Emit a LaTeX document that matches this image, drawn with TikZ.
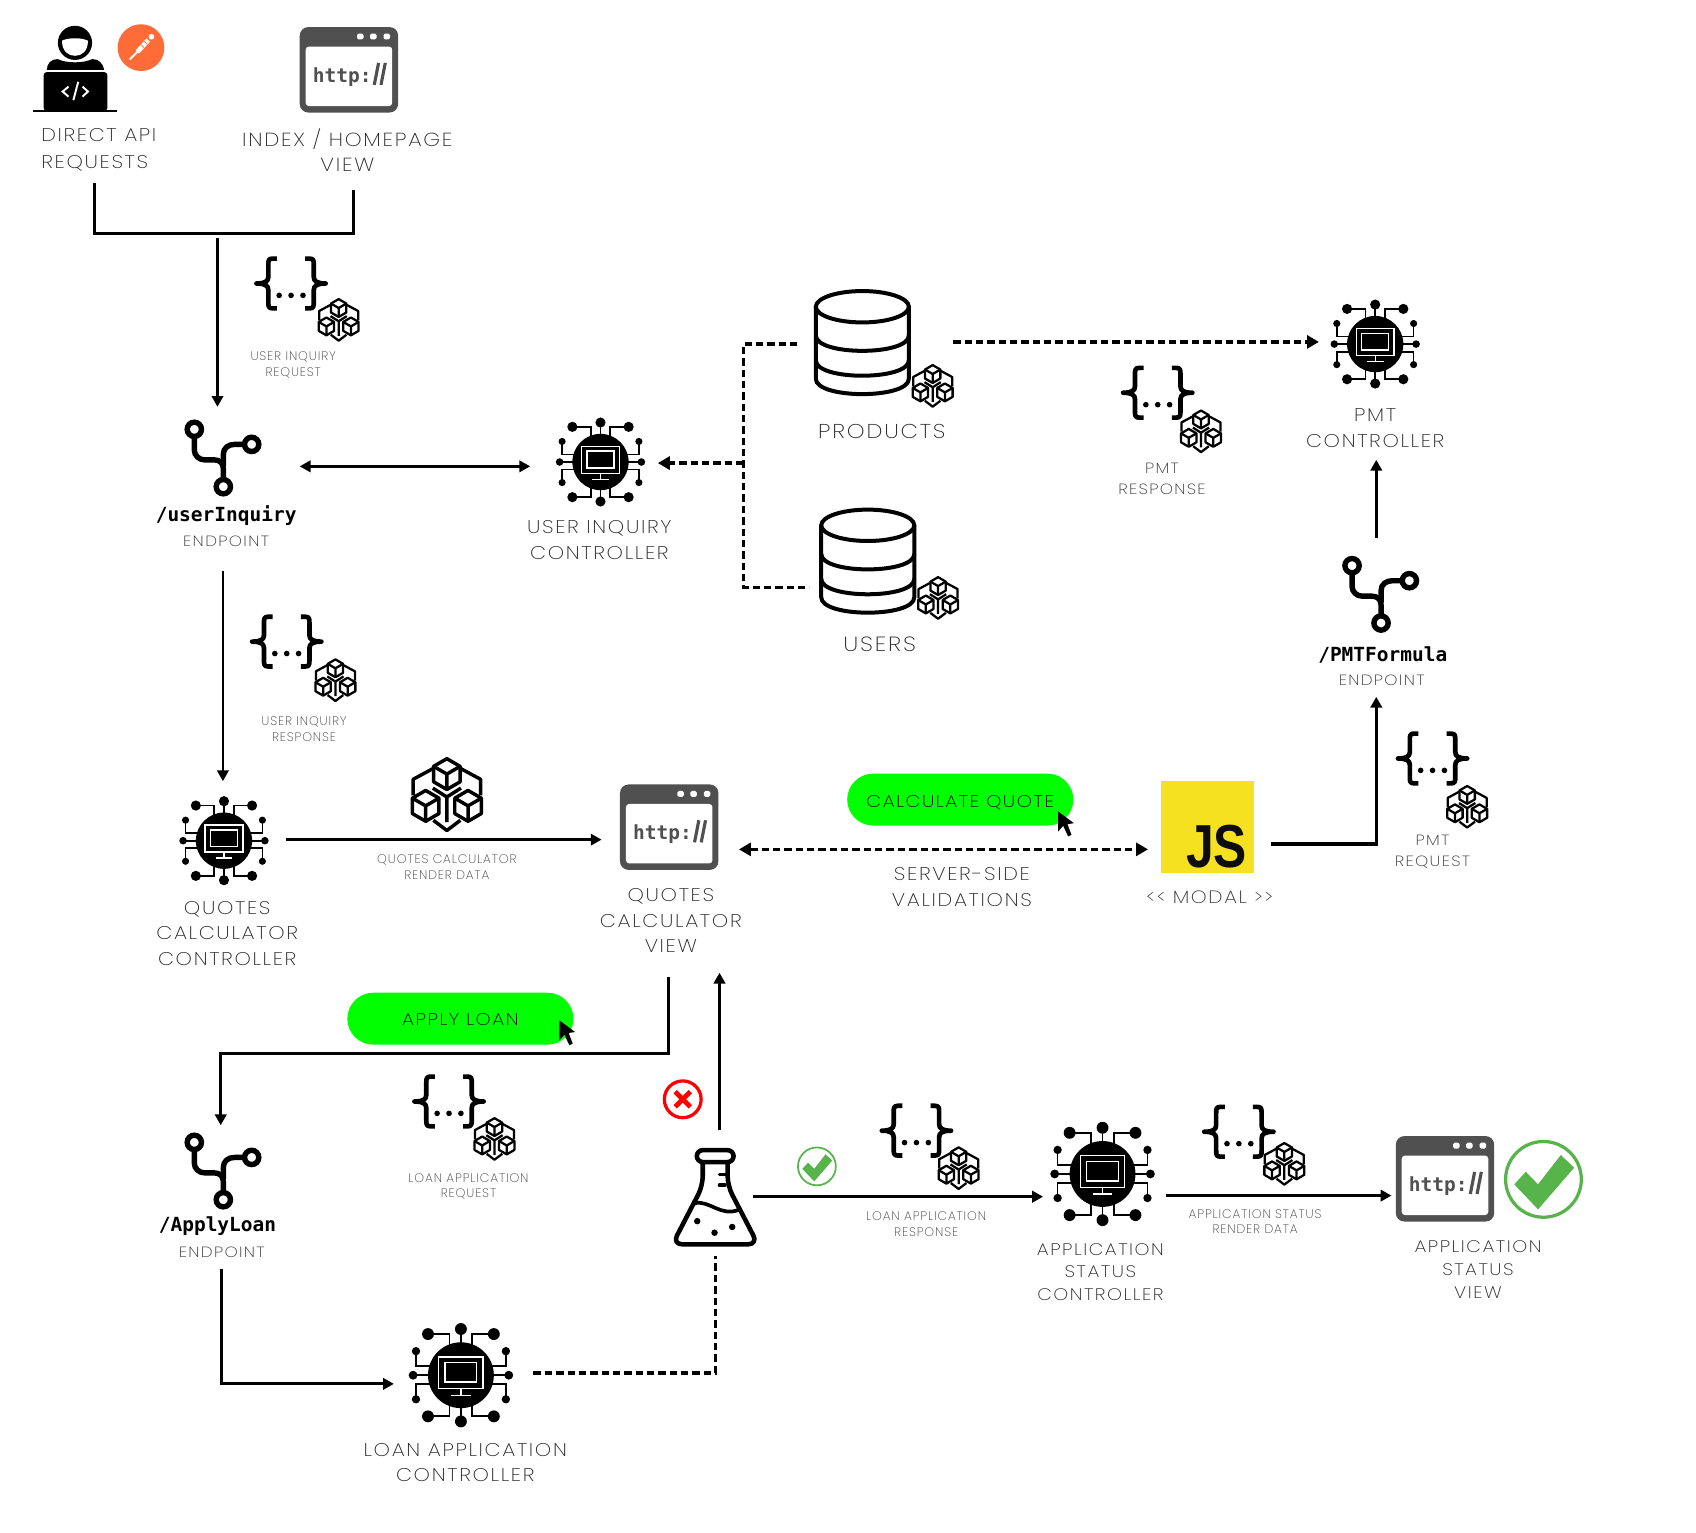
\documentclass[tikz,border=0pt]{standalone}
\usepackage{fontspec}
\usepackage{graphicx}
\usetikzlibrary{arrows.meta}
\newfontfamily\thinfont{Poppins}[UprightFont=* ExtraLight,FakeStretch=1.13,LetterSpace=9]
\newfontfamily\thinsmall{Poppins}[UprightFont=* ExtraLight,LetterSpace=7]
\newfontfamily\codefont{DejaVu Sans Mono}
\newfontfamily\jsfont{Liberation Sans}
\definecolor{winGrey}{HTML}{505050}
\definecolor{okGreen}{HTML}{57B44B}
\definecolor{jsYellow}{HTML}{F5E11F}
\definecolor{pmOrange}{HTML}{FF6C37}
\tikzset{
  lbl/.style={font=\thinfont\fontsize{17}{23.5}\selectfont,align=center,text=black!85,inner sep=0pt},
  lblbig/.style={font=\thinfont\fontsize{19}{23.5}\selectfont,align=center,text=black!85,inner sep=0pt},
  lblmid/.style={font=\thinfont\fontsize{13.7}{19}\selectfont,align=center,text=black!80,inner sep=0pt},
  lblwide/.style={font=\thinfont\fontsize{15.5}{21}\selectfont,align=center,text=black!85,inner sep=0pt},
  lblsmall/.style={font=\thinsmall\fontsize{11.5}{14.5}\selectfont,align=center,text=black!75,inner sep=0pt},
  lblcode/.style={font=\codefont\bfseries\fontsize{18}{22}\selectfont,inner sep=0pt},
  pill/.style={fill=green,rounded corners=24pt,minimum width=209pt,minimum height=48pt,inner sep=0pt,
    font=\thinfont\fontsize{15.7}{18}\selectfont},
  solidarrow/.style={-{Triangle[length=10pt,width=10.5pt]},line width=2.4pt},
  solidboth/.style={{Triangle[length=10pt,width=10.5pt]}-{Triangle[length=10pt,width=10.5pt]},line width=2.4pt},
  dashline/.style={line width=3.1pt,dash pattern=on 6.8pt off 3.7pt},
  dashtip/.style={-{Triangle[length=11pt,width=12pt]}},
  pics/cubeicon/.style={code={
    \begin{scope}[line join=round]
      \draw (-7.3,-13.8) -- (-17.5,-8.3) -- (-17.5,0) (7.3,-13.8) -- (17.5,-8.3) -- (17.5,0);
      \draw (-7,13) -- (0,18.3) -- (7,13);
      \draw (-7.3,-3.7) -- (0,.9) -- (7.3,-3.7) (0,.9) -- (0,14);
      \foreach \cx/\cy in {0/-11,-11/5.5,11/5.5}{
        \begin{scope}[shift={(\cx,\cy)}]
          \draw[fill=white] (0,-8) -- (6.9,-4) -- (6.9,4) -- (0,8) -- (-6.9,4) -- (-6.9,-4) -- cycle;
          \draw (-6.9,-4) -- (0,0) -- (6.9,-4) (0,0) -- (0,8);
        \end{scope}}
    \end{scope}
  }},
  pics/jsonicon/.style={code={
    \begin{scope}[line width=4.3pt,line join=round]
      \draw (-13,-23) -- (-17,-23) .. controls (-21,-23) and (-21,-21) .. (-21,-17) -- (-21,-6)
        .. controls (-21,-2) and (-24,0) .. (-32,0) .. controls (-24,0) and (-21,2) .. (-21,6) -- (-21,17)
        .. controls (-21,21) and (-21,23) .. (-17,23) -- (-13,23);
      \draw (13,-23) -- (17,-23) .. controls (21,-23) and (21,-21) .. (21,-17) -- (21,-6)
        .. controls (21,-2) and (24,0) .. (32,0) .. controls (24,0) and (21,2) .. (21,6) -- (21,17)
        .. controls (21,21) and (21,23) .. (17,23) -- (13,23);
    \end{scope}
    \foreach \dx in {-11,0,11} \fill (\dx,11) circle (2.6);
  }},
  pics/chipicon/.style={code={
    \foreach \sx in {-1,1} \foreach \sy in {-1,1}{
      \begin{scope}[xscale=\sx,yscale=\sy]
        \draw[line width=1.6pt] (26,32.5) -- (9,32.5) -- (9,24) (35.5,19) -- (35.5,7) -- (24,7);
        \fill (26,32.5) circle (4.7) (35.5,19) circle (3.3);
      \end{scope}}
    \draw[line width=1.6pt] (0,-36) -- (0,36) (-37,0) -- (37,0);
    \fill (0,-36.5) circle (4.7) (0,36.5) circle (4.7) (-37.8,0) circle (3.5) (37.8,0) circle (3.5);
    \fill (0,0) circle (26);
    \draw[white,line width=1.3pt] (-17.5,-14.5) rectangle (17.5,10.5);
    \draw[white,line width=1.3pt] (-12.5,-10) rectangle (12.5,5.5);
    \draw[white,line width=1.3pt] (0,10.5) -- (0,15.5);
    \draw[white,line width=1.5pt] (-7.7,16) -- (7.7,16);
  }},
  pics/windowicon/.style={code={
    \fill[winGrey,rounded corners=8pt] (-45.5,-39.5) rectangle (45.5,39.5);
    \fill[white,rounded corners=3pt] (-40,-21.5) rectangle (40,33.5);
    \foreach \dx in {10.5,22.5,35}
      \fill[white,rounded corners=1.5pt] (\dx-3,-33.5) rectangle (\dx+3,-28);
    \node[font=\codefont\bfseries\fontsize{18}{18}\selectfont,text=winGrey,inner sep=0pt,anchor=base west] (-http) at (-34.5,11.5) {http:};
    \draw[winGrey,line width=2.9pt] (23.4,14) -- (27.4,-6.4) (29.6,14) -- (33.6,-6.4);
  }},
  pics/branchicon/.style={code={
    \begin{scope}[line width=5pt]
      \draw (-25.4,-18) -- (-25.4,-7) .. controls (-25.4,-2) and (-21,2) .. (-16,2) -- (-7,2)
        .. controls (-2,2) and (1.4,5) .. (1.4,10) -- (1.4,19);
      \draw (1.4,8) -- (1.4,-3) .. controls (1.4,-9) and (6,-12.3) .. (12,-12.3) -- (21,-12.3);
      \draw (-25.4,-26.2) circle (6.6) (27.6,-12.3) circle (6.6) (1.4,26.8) circle (6.6);
    \end{scope}
  }},
  pics/dbicon/.style={code={
    \begin{scope}[line width=3.7pt]
      \draw[fill=white] (-43,-33.5) -- (-43,33) .. controls (-43,52) and (43,52) .. (43,33) -- (43,-33.5);
      \draw (0,-33.5) ellipse (43 and 14.5);
      \draw (-43,-7) .. controls (-43,12) and (43,12) .. (43,-7);
      \draw (-43,16) .. controls (-43,35) and (43,35) .. (43,16);
    \end{scope}
  }},
  pics/flaskicon/.style={code={
    \begin{scope}[line width=4.2pt,line join=round]
      \draw[rounded corners=5.5pt] (-17,-44) rectangle (17,-33);
      \draw[rounded corners=9pt] (-11.5,-33) -- (-11.5,-11) -- (-39.5,43) -- (39.5,43) -- (11.5,-11) -- (11.5,-33);
      \draw[line width=3.4pt] (-19,5) .. controls (-5,2) and (5,18) .. (22,11);
      \draw[line width=3.4pt,line cap=round] (4,-21.5) -- (11,-21.5) (4,-11.5) -- (9,-11.5);
    \end{scope}
    \fill (-16.6,21.6) circle (3) (-0.6,32.3) circle (3) (15.7,27) circle (3);
  }},
  pics/okicon/.style={code={
    \draw[okGreen] (0,0) circle (35);
    \fill[okGreen] (-27,4.6) -- (-16.3,-7) -- (-5,4.6) -- (16,-22.5) -- (28.4,-10.8) -- (-5,27.7) -- cycle;
  }},
  pics/cursoricon/.style={code={
    \fill (0,0) -- (0,18.5) -- (4.6,13.2) -- (9.2,23) -- (12.3,21.6) -- (8.6,11.7) -- (14.5,10.8) -- cycle;
  }}
}
\begin{document}
\begin{tikzpicture}[x=1pt,y=-1pt,line width=2.4pt]
\useasboundingbox (0,0) rectangle (1567.5,1416.8);

% developer and postman
\begin{scope}[shift={(69.3,61.6)}]
  \fill (0,-22) circle (15.8);
  \fill[white] (-12,-24) .. controls (-6,-27) and (6,-27) .. (12,-24) .. controls (12,-14) and (6,-10) .. (0,-10) .. controls (-6,-10) and (-12,-14) .. (-12,-24);
  \fill (-26,3) .. controls (-26,-3) and (-22,-7) .. (-16,-7) .. controls (-8,-3) and (8,-3) .. (16,-7) .. controls (22,-7) and (26,-3) .. (27,3) -- cycle;
  \fill[rounded corners=3pt] (-29,5) rectangle (30,41);
  \draw[line width=2pt] (-38.5,41) -- (38.5,41);
  \draw[white,line width=1.8pt] (-6,18.5) -- (-11.4,23) -- (-6,27.7) (3,14) -- (-1.5,31) (7,18.5) -- (12,23) -- (7,27.7);
\end{scope}
\fill[pmOrange] (130.3,44) circle (21.6);
\draw[white,line width=4.4pt] (127,48) -- (137,37);
\draw[white,line width=1.8pt] (120,55) -- (128,47);
\fill[white] (140,34) circle (2.6);
\draw[pmOrange,line width=.7pt] (129,40) -- (133,44) (132,37) -- (136,41);

% labels on top
\node[lbl,align=left,anchor=west] (lblDirect) at (37,138.5) {DIRECT API\\[1.5pt]REQUESTS};
\node[lbl,font=\thinfont\fontsize{17.5}{23.5}\selectfont] (lblIndex) at (321,138.5) {INDEX / HOMEPAGE\\VIEW};

% browser windows
\pic at (322.5,64.5) {windowicon};
\pic at (618.5,764.5) {windowicon};
\pic at (1335.5,1089.5) {windowicon};

% json and cube badges
\foreach \bx/\by/\cx/\cy in {269/262/313/296, 265/593/310/629, 1070/363/1110/399, 1324/701/1356/746,
  415/1018/457/1053, 847/1045/886/1080, 1145/1046/1187/1076}{
  \pic at (\bx,\by) {jsonicon};
  \pic[scale=1.03,line width=2.1pt] at (\cx,\cy) {cubeicon};
}
\pic[scale=1.78,line width=3.2pt] at (413,735) {cubeicon};

% controllers
\pic at (555,427) {chipicon};
\pic at (1271,318) {chipicon};
\pic at (207,777) {chipicon};
\pic[scale=1.17] at (426,1271) {chipicon};
\pic[scale=1.17] at (1019,1085) {chipicon};

% endpoints
\pic at (205,423) {branchicon};
\pic at (1275,549) {branchicon};
\pic at (205,1082) {branchicon};

% databases
\pic at (797,317) {dbicon};
\pic[scale=1.03,line width=2.1pt] at (862,357) {cubeicon};
\pic at (802,519) {dbicon};
\pic[scale=1.03,line width=2.1pt] at (867,553) {cubeicon};

% js, flask, status marks
\fill[jsYellow] (1073,722) rectangle (1159,807);
\node[font=\jsfont\bfseries\fontsize{46}{48}\selectfont,inner sep=0pt,text=black!95] (jsMark) at (1124.5,782) {\scalebox{1}[1.22]{JS}};
\pic at (661,1107) {flaskicon};
\pic[scale=.5,line width=1.6pt] at (755,1078) {okicon};
\pic[line width=3pt] at (1426.5,1090) {okicon};
\draw[red,line width=3pt] (631,1016) circle (17);
\draw[red,line width=4.4pt] (624,1009) -- (638,1023) (638,1009) -- (624,1023);

% coordinates where connectors stop
\coordinate (devDown) at (87,169);
\coordinate (homeDown) at (327,176);
\coordinate (joinTop) at (201,220);
\coordinate (ueIn) at (201,376);
\coordinate (ueRight) at (277,431);
\coordinate (ucLeft) at (490,431);
\coordinate (ueDown) at (206,528);
\coordinate (qcIn) at (206,722);
\coordinate (qcRight) at (264,776);
\coordinate (qvLeft) at (556,776);
\coordinate (prodLeft) at (737,318);
\coordinate (usersLeft) at (748,543);
\coordinate (ucRight) at (608,428);
\coordinate (busMid) at (687,428);
\coordinate (prodRight) at (881,316);
\coordinate (pcLeft) at (1219,316);
\coordinate (peUp) at (1272,497);
\coordinate (pcDown) at (1272,425);
\coordinate (jsRight) at (1175,780);
\coordinate (peDown) at (1272,644);
\coordinate (qvRight) at (683,785);
\coordinate (jsLeft) at (1061,785);
\coordinate (qvDown) at (618,903);
\coordinate (aeIn) at (204,1040);
\coordinate (flaskUp) at (665,1044);
\coordinate (qvUnder) at (665,899);
\coordinate (aeDown) at (205,1173);
\coordinate (lcLeft) at (364,1279);
\coordinate (lcRight) at (493,1269);
\coordinate (flaskDown) at (661,1161);
\coordinate (flaskRight) at (696,1106);
\coordinate (ascLeft) at (964,1106);
\coordinate (ascRight) at (1078,1105);
\coordinate (asvLeft) at (1286,1105);

% connectors
\draw[line width=2.6pt,line join=miter] (devDown) |- (homeDown |- 0,216) -- (homeDown);
\draw[solidarrow] (joinTop) -- (ueIn);
\draw[solidboth] (ueRight) -- (ucLeft);
\draw[solidarrow] (ueDown) -- (qcIn);
\draw[solidarrow] (qcRight) -- (qvLeft);
\draw[dashline] (prodLeft) -| (usersLeft -| busMid) -- (usersLeft);
\draw[dashline,dashtip] (busMid) -- (ucRight);
\draw[dashline,dashtip] (prodRight) -- (pcLeft);
\draw[solidarrow,line width=3pt] (peUp) -- (pcDown);
\draw[solidarrow,line width=3pt] (jsRight) -| (peDown);
\draw[dashline,{Triangle[length=11pt,width=12pt]}-{Triangle[length=11pt,width=12pt]}] (qvRight) -- (jsLeft);
\draw[solidarrow,line width=3pt] (qvDown) |- (aeIn |- 0,974) -- (aeIn);
\draw[solidarrow,line width=3pt] (flaskUp) -- (qvUnder);
\draw[solidarrow,line width=3pt] (aeDown) |- (lcLeft);
\draw[dashline] (lcRight) -| (flaskDown);
\draw[solidarrow,line width=2.8pt] (flaskRight) -- (ascLeft);
\draw[solidarrow,line width=2.8pt] (ascRight) -- (asvLeft);

% action buttons
\node[pill,text depth=0pt,text height=0pt] (btnCalc) at (887.5,739) {\raisebox{-7pt}[0pt][0pt]{CALCULATE QUOTE}};
\pic at (978,750) {cursoricon};
\node[pill,text depth=0pt,text height=0pt] (btnApply) at (425.5,941.5) {\raisebox{-6pt}[0pt][0pt]{APPLY LOAN}};
\pic at (517,943) {cursoricon};

% text under icons
\node[lblsmall] (lblUiReq) at (271,337.5) {USER INQUIRY\\REQUEST};
\node[lblcode] (lblUe) at (209,476.5) {/userInquiry};
\node[lblmid] (lblUeSub) at (209,500.5) {ENDPOINT};
\node[lbl] (lblUc) at (554,499) {USER INQUIRY\\CONTROLLER};
\node[lbl,font=\thinfont\fontsize{18.5}{23.5}\selectfont] (lblProd) at (815,399) {PRODUCTS};
\node[lblbig] (lblUsers) at (813,595) {USERS};
\node[lbl] (lblPc) at (1271,395.5) {PMT\\CONTROLLER};
\node[lblmid] (lblPmtRes) at (1074,442.5) {PMT\\RESPONSE};
\node[lblcode] (lblPe) at (1278,605.5) {/PMTFormula};
\node[lblmid] (lblPeSub) at (1277,628.5) {ENDPOINT};
\node[lblmid] (lblPmtReq) at (1324,787.5) {PMT\\REQUEST};
\node[lblsmall] (lblUiRes) at (281,674) {USER INQUIRY\\RESPONSE};
\node[lbl] (lblQc) at (210,862.5) {QUOTES\\CALCULATOR\\CONTROLLER};
\node[lblsmall] (lblQcData) at (413,801.5) {QUOTES CALCULATOR\\RENDER DATA};
\node[lbl] (lblQv) at (620,851) {QUOTES\\CALCULATOR\\VIEW};
\node[lbl] (lblSrv) at (889,820) {SERVER-SIDE\\VALIDATIONS};
\node[lblmid,font=\thinfont\fontsize{16.5}{19}\selectfont] (lblModal) at (1118,829.5) {<{}< MODAL >{}>};
\node[lblsmall] (lblLaReq) at (433,1096.5) {LOAN APPLICATION\\REQUEST};
\node[lblcode] (lblAe) at (201,1133) {/ApplyLoan};
\node[lblmid] (lblAeSub) at (205,1157) {ENDPOINT};
\node[lbl] (lblLc) at (430,1351.5) {LOAN APPLICATION\\CONTROLLER};
\node[lblsmall] (lblLaRes) at (856,1131.5) {LOAN APPLICATION\\RESPONSE};
\node[lblwide] (lblAsc) at (1017,1175.5) {APPLICATION\\STATUS\\CONTROLLER};
\node[lblsmall] (lblAsData) at (1160,1129) {APPLICATION STATUS\\RENDER DATA};
\node[lblwide] (lblAsv) at (1366,1173.5) {APPLICATION\\STATUS\\VIEW};
\end{tikzpicture}
\end{document}
